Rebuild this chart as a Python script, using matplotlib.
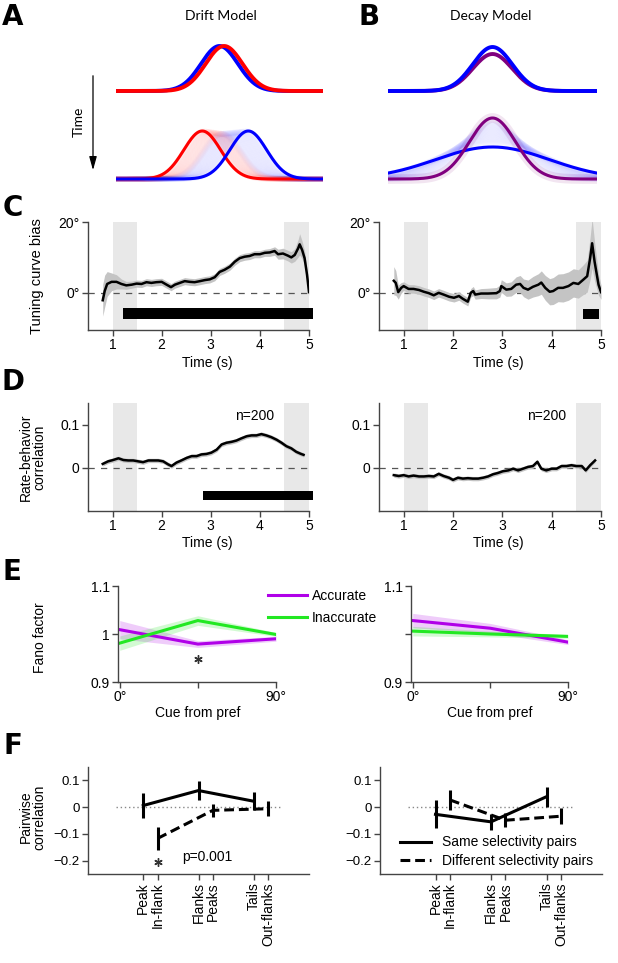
import numpy as np
import matplotlib
matplotlib.use("Agg")
import matplotlib.pyplot as plt

plt.rcParams["font.family"] = ["Liberation Sans", "DejaVu Sans"]

W, H = 618, 963

# ---------------- data ----------------
# A/B schematic tuning curves: (center deg, amplitude, width deg)
DRIFT_EARLY = {"blue": (0, 45, 16), "red": (4, 45, 16)}
DRIFT_LATE = {"red": (-15, 48, 16), "blue": (25, 48, 16)}
DECAY_EARLY = {"purple": (0, 37, 17), "blue": (0, 44, 17)}
DECAY_LATE = {"blue": (0, 32, 49), "purple": (0, 61, 20)}

# C: tuning curve bias (deg)
C_DRIFT_T = [0.80, 0.84, 0.89, 0.98, 1.08, 1.18, 1.28, 1.39, 1.49, 1.59, 1.69, 1.79,
             1.89, 2.00, 2.10, 2.19, 2.27, 2.37, 2.47, 2.57, 2.67, 2.78, 2.88, 2.98,
             3.08, 3.18, 3.28, 3.39, 3.49, 3.59, 3.69, 3.79, 3.89, 4.00, 4.10, 4.20,
             4.30, 4.37, 4.47, 4.57, 4.64, 4.71, 4.78, 4.81, 4.86, 4.91, 4.96, 5.00]
C_DRIFT_BIAS = [-2.1, 0.5, 2.5, 3.1, 3.1, 2.5, 2.1, 2.3, 2.6, 2.5, 3.0, 2.8,
                3.0, 3.1, 2.3, 1.6, 2.3, 2.8, 3.3, 3.1, 3.0, 3.3, 3.6, 3.8,
                4.4, 5.9, 6.5, 7.4, 8.8, 9.8, 10.2, 10.4, 10.9, 10.9, 11.3, 11.4,
                11.8, 10.9, 11.1, 10.5, 10.0, 10.7, 12.6, 13.7, 12.1, 9.8, 5.1, 0.2]
C_DRIFT_SEM = [4.5, 4.5, 3.5, 2.5, 2.0, 1.4, 1.1, 1.0, 1.0, 1.0, 1.0, 1.0,
               1.0, 1.0, 1.0, 1.0, 1.0, 1.0, 1.0, 1.0, 1.0, 1.0, 1.0, 1.0,
               1.0, 1.0, 1.0, 1.0, 1.0, 1.0, 1.0, 1.0, 1.0, 1.0, 1.0, 1.1,
               1.2, 1.4, 1.5, 1.5, 1.6, 1.8, 2.5, 3.0, 2.5, 2.0, 1.5, 1.0]
C_DECAY_T = [0.80, 0.84, 0.89, 0.95, 1.00, 1.10, 1.20, 1.31, 1.41, 1.51, 1.61, 1.71,
             1.81, 1.92, 2.02, 2.12, 2.20, 2.30, 2.36, 2.41, 2.45, 2.57, 2.71, 2.88,
             2.95, 2.98, 3.08, 3.18, 3.28, 3.36, 3.43, 3.52, 3.62, 3.73, 3.79, 3.87,
             3.96, 4.03, 4.13, 4.23, 4.34, 4.44, 4.54, 4.64, 4.72, 4.78, 4.82, 4.87,
             4.95, 5.00]
C_DECAY_BIAS = [3.4, 2.8, 0.2, 1.4, 1.9, 1.1, 1.1, 0.8, 0.3, -0.1, -0.7, 0.0,
                -0.5, -1.1, -1.4, -0.9, -1.7, -2.5, 0.0, 0.5, -0.5, -0.2, -0.2, -0.1,
                0.5, 1.9, 0.9, 1.1, 2.3, 2.5, 1.4, 0.9, 1.7, 2.3, 2.9, 1.4,
                0.3, 0.5, 1.4, 1.4, 1.9, 2.8, 2.5, 3.7, 4.7, 9.8, 14.0, 8.8,
                2.3, 0.2]
C_DECAY_SEM = [4.0, 3.5, 2.0, 1.5, 1.2, 1.2, 1.2, 1.2, 1.2, 1.2, 1.2, 1.2,
               1.2, 1.2, 1.2, 1.2, 1.2, 1.2, 1.2, 1.3, 1.3, 1.4, 1.5, 1.6,
               1.7, 1.8, 1.9, 2.0, 2.2, 2.4, 2.5, 2.7, 2.9, 3.1, 3.3, 3.5,
               3.7, 3.8, 3.9, 4.0, 4.0, 4.0, 4.0, 4.2, 4.5, 6.0, 7.0, 5.5,
               3.0, 2.0]

# D: rate-behavior correlation
D_DRIFT_T = [0.80, 0.91, 1.01, 1.12, 1.22, 1.32, 1.42, 1.52, 1.62, 1.73, 1.83, 1.93,
             2.03, 2.13, 2.20, 2.30, 2.40, 2.51, 2.61, 2.71, 2.81, 2.91, 3.01, 3.12,
             3.22, 3.32, 3.42, 3.52, 3.62, 3.73, 3.83, 3.93, 4.03, 4.13, 4.23, 4.34,
             4.44, 4.54, 4.64, 4.74, 4.84, 4.89]
D_DRIFT_R = [0.009, 0.015, 0.018, 0.022, 0.018, 0.017, 0.017, 0.015, 0.013, 0.017, 0.017, 0.017,
             0.015, 0.008, 0.004, 0.012, 0.017, 0.023, 0.027, 0.027, 0.031, 0.032, 0.035, 0.042,
             0.054, 0.058, 0.060, 0.063, 0.068, 0.073, 0.075, 0.075, 0.078, 0.075, 0.071, 0.065,
             0.058, 0.050, 0.045, 0.037, 0.032, 0.030]
D_DECAY_T = [0.80, 0.90, 1.00, 1.10, 1.20, 1.31, 1.41, 1.51, 1.61, 1.71, 1.81, 1.92,
             2.00, 2.10, 2.20, 2.30, 2.40, 2.51, 2.61, 2.71, 2.81, 2.91, 3.01, 3.12,
             3.22, 3.32, 3.42, 3.52, 3.62, 3.71, 3.79, 3.89, 4.00, 4.10, 4.20, 4.30,
             4.40, 4.50, 4.61, 4.69, 4.78, 4.88]
D_DECAY_R = [-0.017, -0.019, -0.017, -0.020, -0.018, -0.020, -0.020, -0.019, -0.020, -0.014, -0.019, -0.023,
             -0.028, -0.023, -0.025, -0.024, -0.025, -0.025, -0.023, -0.020, -0.015, -0.012, -0.008, -0.006,
             -0.002, -0.006, -0.002, 0.002, 0.004, 0.014, -0.002, -0.006, -0.002, -0.002, 0.004, 0.004,
             0.006, 0.004, 0.004, -0.006, 0.006, 0.017]
D_SEM = 0.005

EPOCHS = [(1.0, 1.5), (4.5, 5.0)]
SIG_C_DRIFT = (1.22, 5.08)
SIG_C_DECAY = (4.64, 4.96)
SIG_D_DRIFT = (2.84, 5.08)

# E: Fano factor
CUE = [0, 45, 90]
E_DRIFT_ACC = [1.009, 0.979, 0.990]
E_DRIFT_ACC_SEM = [0.019, 0.007, 0.005]
E_DRIFT_INACC = [0.981, 1.028, 0.999]
E_DRIFT_INACC_SEM = [0.015, 0.010, 0.004]
E_DECAY_ACC = [1.028, 1.012, 0.983]
E_DECAY_ACC_SEM = [0.015, 0.010, 0.005]
E_DECAY_INACC = [1.006, 1.000, 0.995]
E_DECAY_INACC_SEM = [0.010, 0.006, 0.004]

# F: pairwise correlation
PAIR_X = [1, 2, 3]
PAIR_SHIFT = 0.26
SAME_LABELS = ["Peak", "Flanks", "Tails"]
DIFF_LABELS = ["In-flank", "Peaks", "Out-flanks"]
F_DRIFT_SAME = [0.006, 0.062, 0.022]
F_DRIFT_SAME_ERR = [0.047, 0.037, 0.034]
F_DRIFT_DIFF = [-0.117, -0.012, -0.006]
F_DRIFT_DIFF_ERR = [0.043, 0.025, 0.028]
F_DECAY_SAME = [-0.027, -0.055, 0.039]
F_DECAY_SAME_ERR = [0.052, 0.030, 0.037]
F_DECAY_DIFF = [0.027, -0.049, -0.034]
F_DECAY_DIFF_ERR = [0.038, 0.027, 0.030]

COLORS = {"red": "#ff0000", "blue": "#0000ff", "purple": "#80007f"}
ACC_COLOR = "#b000e8"
INACC_COLOR = "#22e822"

# ---------------- helpers ----------------
fig = plt.figure(figsize=(W / 100, H / 100), dpi=100)


def add_ax(x0, y0, x1, y1):
    """Axes placed by pixel box (top-left origin)."""
    return fig.add_axes([x0 / W, 1 - y1 / H, (x1 - x0) / W, (y1 - y0) / H])


def ptext(x, y, s, **kw):
    kw.setdefault("ha", "center")
    kw.setdefault("va", "center")
    fig.text(x / W, 1 - y / H, s, **kw)


def style_axes(ax, labelsize=10):
    for s in ("top", "right"):
        ax.spines[s].set_visible(False)
    for s in ("left", "bottom"):
        ax.spines[s].set_color("#444444")
        ax.spines[s].set_linewidth(1.0)
    ax.tick_params(direction="out", length=4, width=1.0, color="#444444",
                   labelsize=labelsize, pad=2)


ANGLES = np.linspace(-90, 90, 361)


def tuning(params, base):
    center, amp, width = params
    return base + amp * np.exp(-0.5 * ((ANGLES - center) / width) ** 2)


def blend(p0, p1, f):
    return tuple(a + f * (b - a) for a, b in zip(p0, p1))


TOP_BASE, BOT_BASE = 94, 6
LETTER = dict(fontsize=20, fontweight="bold",
              family=["Liberation Sans Narrow", "DejaVu Sans"])
TITLE = dict(fontsize=10, family=["Lato", "DejaVu Sans"])

# ---------------- A: drift model ----------------
axA = add_ax(116, 35, 323, 185)
axA.set_xlim(-90, 90)
axA.set_ylim(0, 150)
axA.axis("off")
for name in ("blue", "red"):
    axA.plot(ANGLES, tuning(DRIFT_EARLY[name], TOP_BASE), color=COLORS[name], lw=2.8)
# faint trail of intermediate curves
for name in ("red", "blue"):
    for f in np.linspace(0.05, 0.95, 30):
        axA.plot(ANGLES, tuning(blend(DRIFT_EARLY[name], DRIFT_LATE[name], f), BOT_BASE),
                 color=COLORS[name], lw=4, alpha=0.012, solid_capstyle="butt")
for name in ("red", "blue"):
    axA.plot(ANGLES, tuning(DRIFT_LATE[name], BOT_BASE), color=COLORS[name], lw=2.2)

# ---------------- B: decay model ----------------
axB = add_ax(388, 35, 597, 185)
axB.set_xlim(-90, 90)
axB.set_ylim(0, 150)
axB.axis("off")
for name in ("purple", "blue"):
    axB.plot(ANGLES, tuning(DECAY_EARLY[name], TOP_BASE), color=COLORS[name], lw=2.8)
for f in np.linspace(0.1, 0.9, 30):
    axB.plot(ANGLES, tuning(blend(DECAY_LATE["purple"], DECAY_LATE["blue"], f), BOT_BASE),
             color=COLORS["blue"], lw=4, alpha=0.012)
axB.plot(ANGLES, tuning(DECAY_LATE["purple"], BOT_BASE), color=COLORS["purple"], lw=7, alpha=0.1)
axB.plot(ANGLES, tuning(DECAY_LATE["blue"], BOT_BASE), color=COLORS["blue"], lw=2.2)
axB.plot(ANGLES, tuning(DECAY_LATE["purple"], BOT_BASE), color=COLORS["purple"], lw=2.2)

fig.add_artist(matplotlib.patches.FancyArrowPatch(
    (93 / W, 1 - 73 / H), (93 / W, 1 - 173 / H), transform=fig.transFigure,
    arrowstyle="-|>,head_width=0.25,head_length=0.9", mutation_scale=9,
    color="black", lw=0.9))
ptext(79, 122, "Time", rotation=90, **TITLE)
ptext(221, 16, "Drift Model", **TITLE)
ptext(491, 16, "Decay Model", **TITLE)
ptext(13, 17, "A", **LETTER)
ptext(369, 17, "B", **LETTER)


# ---------------- C & D: time courses ----------------
def time_panel(box, t, y, sem, ylim, sig, yticks, yticklabels, bar_y, bar_h):
    ax = add_ax(*box)
    style_axes(ax)
    for a, b in EPOCHS:
        ax.axvspan(a, b, color="#e8e8e8", lw=0, zorder=0)
    ax.axhline(0, color="#555555", lw=0.9, dashes=(5, 5), zorder=1)
    y = np.asarray(y)
    ax.fill_between(t, y - sem, y + sem, color="#c4c4c4", lw=0, zorder=2)
    ax.plot(t, y, color="black", lw=1.8, zorder=3)
    if sig is not None:
        ax.barh(bar_y, sig[1] - sig[0], left=sig[0], height=bar_h, color="black",
                clip_on=False, zorder=4)
    ax.set_xlim(0.5, 5)
    ax.set_ylim(*ylim)
    ax.set_xticks([1, 2, 3, 4, 5])
    ax.set_yticks(yticks)
    ax.set_yticklabels(yticklabels)
    return ax


time_panel((88, 222, 309, 330), C_DRIFT_T, C_DRIFT_BIAS, np.asarray(C_DRIFT_SEM), (-10.5, 20),
           SIG_C_DRIFT, [0, 20], ["0°", "20°"], -5.8, 3.0)
time_panel((379, 222, 601, 330), C_DECAY_T, C_DECAY_BIAS, np.asarray(C_DECAY_SEM), (-10.5, 20),
           SIG_C_DECAY, [0, 20], ["0°", "20°"], -5.9, 2.8)
axD1 = time_panel((88, 403, 309, 511), D_DRIFT_T, D_DRIFT_R, D_SEM, (-0.1, 0.15),
                  SIG_D_DRIFT, [0, 0.1], ["0", "0.1"], -0.064, 0.02)
axD2 = time_panel((379, 403, 601, 511), D_DECAY_T, D_DECAY_R, D_SEM, (-0.1, 0.15),
                  None, [0, 0.1], ["0", "0.1"], 0, 0)
axD1.text(3.9, 0.119, "n=200", ha="center", va="center", fontsize=10)
axD2.text(3.9, 0.119, "n=200", ha="center", va="center", fontsize=10)

for x in (207, 498):
    ptext(x, 363, "Time (s)", fontsize=10)
    ptext(x, 543, "Time (s)", fontsize=10)
ptext(37, 276, "Tuning curve bias", rotation=90, fontsize=10.5)
ptext(33, 457, "Rate-behavior\ncorrelation", rotation=90, fontsize=10, linespacing=0.95)
ptext(13, 208, "C", **LETTER)
ptext(13, 382, "D", **LETTER)


# ---------------- E: Fano factor ----------------
def fano_panel(box, acc, acc_sem, inacc, inacc_sem, ylabels):
    ax = add_ax(*box)
    style_axes(ax)
    lines = []
    for vals, sem, color in ((acc, acc_sem, ACC_COLOR), (inacc, inacc_sem, INACC_COLOR)):
        vals, sem = np.asarray(vals), np.asarray(sem)
        ax.fill_between(CUE, vals - sem, vals + sem, color=color, alpha=0.2, lw=0)
        lines.append(ax.plot(CUE, vals, color=color, lw=2.2)[0])
    ax.set_xlim(-1, 90)
    ax.set_ylim(0.9, 1.1)
    ax.set_xticks(CUE)
    ax.set_xticklabels(["0°", "", "90°"])
    ax.set_yticks([0.9, 1.0, 1.1])
    ax.set_yticklabels(ylabels)
    return ax, lines


axE1, e_lines = fano_panel((118, 586, 276, 682), E_DRIFT_ACC, E_DRIFT_ACC_SEM,
                           E_DRIFT_INACC, E_DRIFT_INACC_SEM, ["0.9", "1", "1.1"])
fano_panel((411, 586, 568, 682), E_DECAY_ACC, E_DECAY_ACC_SEM,
           E_DECAY_INACC, E_DECAY_INACC_SEM, ["0.9", "", "1.1"])
axE1.plot([45], [0.948], marker=(6, 2, 0), ms=6, mew=1.0, color="#333333", clip_on=False)
axE1.legend(e_lines, ["Accurate", "Inaccurate"], loc="upper left", bbox_to_anchor=(0.95, 0.97),
            frameon=False, fontsize=10, handlelength=2.8, handletextpad=0.35,
            labelspacing=0.55, borderpad=0, borderaxespad=0)
ptext(198, 713, "Cue from pref", fontsize=10)
ptext(490, 713, "Cue from pref", fontsize=10)
ptext(40, 638, "Fano factor", rotation=90, fontsize=10)
ptext(12, 572, "E", **LETTER)


# ---------------- F: pairwise correlation ----------------
def pair_panel(box, same, same_err, diff, diff_err):
    ax = add_ax(*box)
    style_axes(ax, labelsize=9.5)
    ax.hlines(0, 0.5, 3.5, colors="#888888", linestyles=(0, (1, 2)), lw=1.0)
    diff_x = [x + PAIR_SHIFT for x in PAIR_X]
    eb1 = ax.errorbar(PAIR_X, same, yerr=same_err, color="black", lw=2.2,
                      elinewidth=2.2, capsize=0)
    eb2 = ax.errorbar(diff_x, diff, yerr=diff_err, color="black", lw=2.2,
                      elinewidth=2.2, capsize=0, dashes=(3.2, 1.6))
    ax.set_xlim(0, 4)
    ax.set_ylim(-0.25, 0.15)
    ticks = sorted(PAIR_X + diff_x)
    ax.set_xticks(ticks)
    ax.set_xticklabels([l for pair in zip(SAME_LABELS, DIFF_LABELS) for l in pair],
                       rotation=90, fontsize=10)
    ax.set_yticks([-0.2, -0.1, 0, 0.1])
    ax.set_yticklabels(["\u22120.2", "\u22120.1", "0", "0.1"])
    return ax, eb1.lines[0], eb2.lines[0]


axF1, _, _ = pair_panel((88, 767, 309, 874), F_DRIFT_SAME, F_DRIFT_SAME_ERR,
                        F_DRIFT_DIFF, F_DRIFT_DIFF_ERR)
axF2, same_line, diff_line = pair_panel((380, 767, 602, 874), F_DECAY_SAME, F_DECAY_SAME_ERR,
                                        F_DECAY_DIFF, F_DECAY_DIFF_ERR)
axF1.plot([1 + PAIR_SHIFT], [-0.205], marker=(6, 2, 0), ms=6, mew=1.0, color="#333333")
axF1.text(1.70, -0.187, "p=0.001", ha="left", va="center", fontsize=10)
axF2.legend([same_line, diff_line], ["Same selectivity pairs", "Different selectivity pairs"],
            loc="upper left", bbox_to_anchor=(0.09, 0.36), frameon=False, fontsize=10,
            handlelength=2.2, handletextpad=0.85, labelspacing=0.35, borderpad=0,
            borderaxespad=0)
ptext(33, 817, "Pairwise\ncorrelation", rotation=90, fontsize=10, linespacing=0.95)
ptext(13, 746, "F", **LETTER)

fig.savefig("out.png", dpi=100, facecolor="white")
